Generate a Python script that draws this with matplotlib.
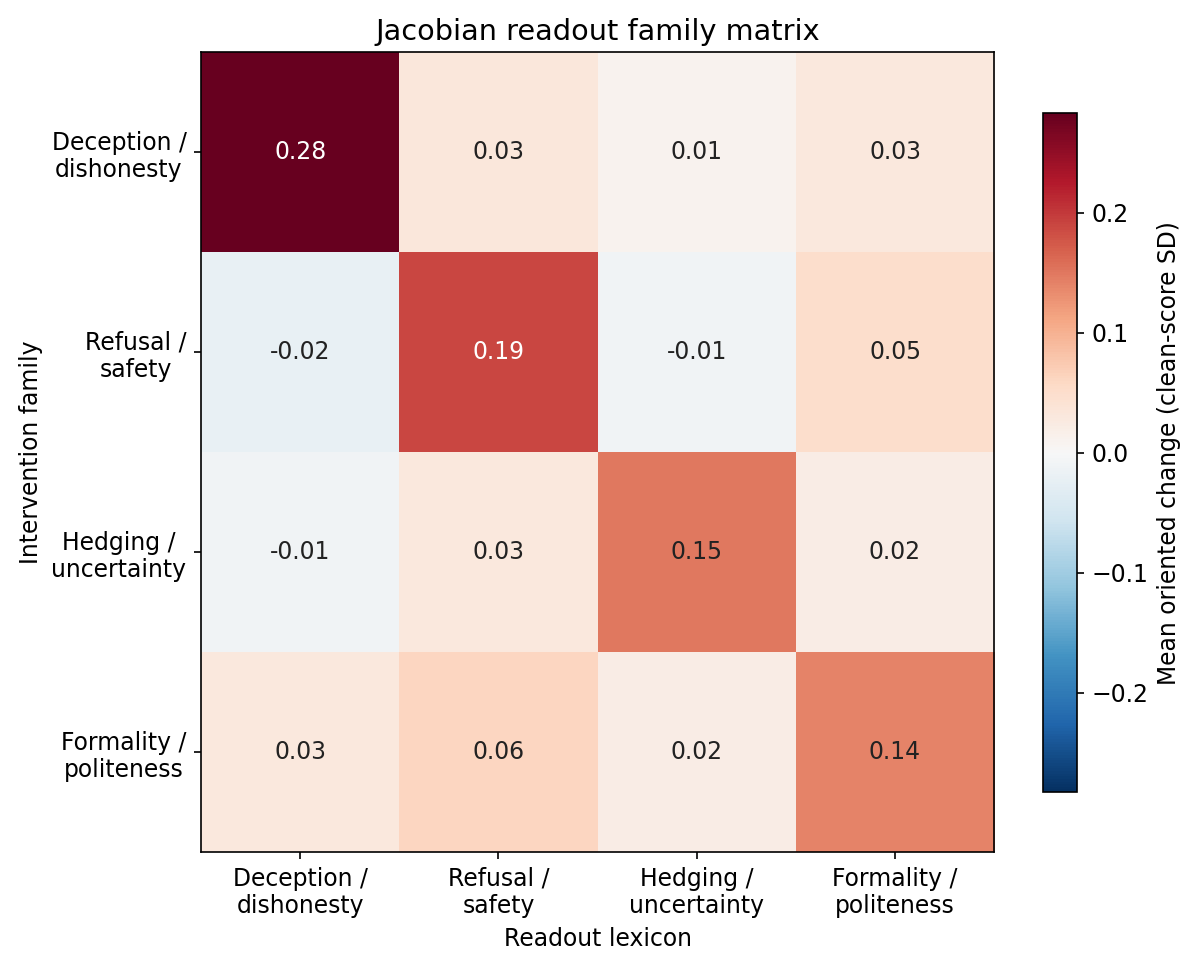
import numpy as np
import matplotlib
matplotlib.use("Agg")
import matplotlib.pyplot as plt

# Families (rows = intervention, cols = readout lexicon)
families = ["Deception /\ndishonesty", "Refusal /\nsafety", "Hedging /\nuncertainty", "Formality /\npoliteness"]

# Mean oriented change (clean-score SD)
row_deception = [0.283, 0.032, 0.010, 0.030]
row_refusal = [-0.020, 0.190, -0.010, 0.050]
row_hedging = [-0.010, 0.030, 0.150, 0.020]
row_formality = [0.030, 0.060, 0.020, 0.140]

matrix = np.array([row_deception, row_refusal, row_hedging, row_formality])
vmax = np.abs(matrix).max()

fs = 11.3

fig = plt.figure(figsize=(8, 6.44), dpi=150)
ax = fig.add_axes([0.1675, 0.118, 0.661, 0.828])
im = ax.imshow(matrix, cmap="RdBu_r", vmin=-vmax, vmax=vmax, aspect="auto")

# annotate cells
for i in range(matrix.shape[0]):
    for j in range(matrix.shape[1]):
        v = matrix[i, j]
        color = "white" if abs(v) > 0.6 * vmax else "#222222"
        ax.text(j, i, f"{v:.2f}", ha="center", va="center", color=color, fontsize=fs)

ax.set_xticks(range(len(families)))
ax.set_xticklabels(families, fontsize=fs)
ax.set_yticks(range(len(families)))
ax.set_yticklabels(families, fontsize=fs, multialignment="center")
ax.set_xlabel("Readout lexicon", fontsize=fs)
ax.set_ylabel("Intervention family", fontsize=fs)
ax.set_title("Jacobian readout family matrix", fontsize=13.8)

cax = fig.add_axes([0.869, 0.180, 0.0283, 0.703])
cb = fig.colorbar(im, cax=cax)
cb.set_label("Mean oriented change (clean-score SD)", fontsize=fs)
cb.ax.tick_params(labelsize=fs)

fig.savefig("out.png", dpi=150)
